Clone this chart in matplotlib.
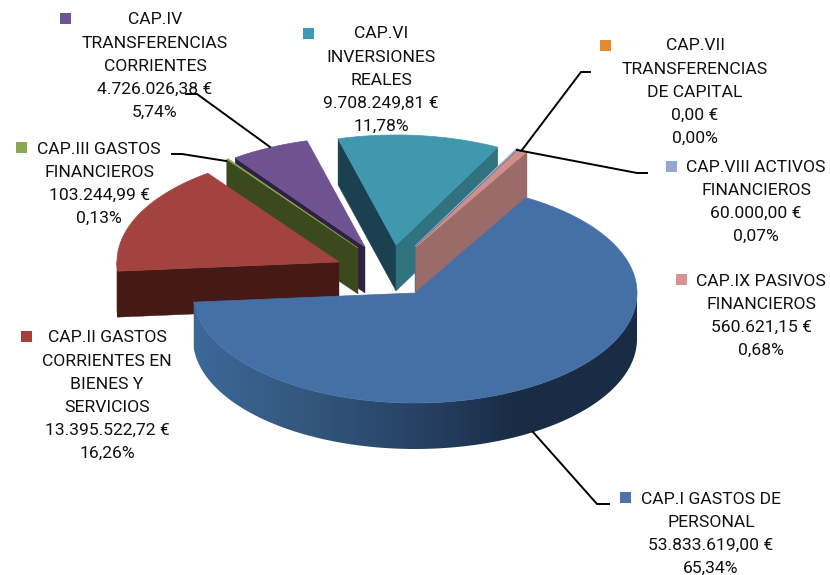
import numpy as np
import matplotlib
matplotlib.use('Agg')
import matplotlib.pyplot as plt
from matplotlib.colors import LinearSegmentedColormap
from matplotlib.patches import Polygon, Rectangle

plt.rcParams['font.family'] = ['Roboto', 'Liberation Sans', 'DejaVu Sans']

# ── Datos ─────────────────────────────────────────────────────────────────────
capitulos = ['CAP.I', 'CAP.II', 'CAP.III', 'CAP.IV', 'CAP.VI', 'CAP.VII', 'CAP.VIII', 'CAP.IX']
importes = [53833619.00, 13395522.72, 103244.99, 4726026.38, 9708249.81, 0.00, 60000.00, 560621.15]
nombres = [
    ['CAP.I GASTOS DE', 'PERSONAL'],
    ['CAP.II GASTOS', 'CORRIENTES EN', 'BIENES Y', 'SERVICIOS'],
    ['CAP.III GASTOS', 'FINANCIEROS'],
    ['CAP.IV', 'TRANSFERENCIAS', 'CORRIENTES'],
    ['CAP.VI', 'INVERSIONES', 'REALES'],
    ['CAP.VII', 'TRANSFERENCIAS', 'DE CAPITAL'],
    ['CAP.VIII ACTIVOS', 'FINANCIEROS'],
    ['CAP.IX PASIVOS', 'FINANCIEROS'],
]

# ── Estilo de cada sector (todo en píxeles de la imagen) ──────────────────────
col_sup = ['#4570a6', '#a24340', '#8aa84f', '#6f5390', '#3f98ae', '#e8873a', '#9eb0d4', '#cf908c']
col_mur = ['#2a4a70', '#451a16', '#3a4a1c', '#2e2145', '#1b4050', '#8a4f20', '#5a6a85', '#9a6b68']
col_mur2 = ['#2a4a70', '#451a16', '#3a4a1c', '#2e2145', '#31727f', '#8a4f20', '#5a6a85', '#9a6b68']
col_marca = ['#4a74ab', '#a5413d', '#8ca84c', '#6d5494', '#3d9ab5', '#e38a35', '#94a8cf', '#d69391']
vertices = [(415, 293), (339, 262), (358, 248), (365, 247), (396, 245), (415, 247), (415, 246), (416, 247)]
orden = [4, 5, 6, 7, 3, 2, 1, 0]   # de atrás hacia delante

RX, RY, FONDO = 222, 110, 46
INICIO = 60.0

# centro x del texto, y de la primera línea, posición de la marca
textos = [(711, 499, 620, 492), (107, 338, 21, 331), (99, 149, 16, 142), (155, 20, 60, 13),
          (381, 34, 303, 28), (695, 46, 600, 40), (756, 167, 666, 161), (761, 281, 676, 274)]

guias = [
    [(533, 432), (597, 504), (609, 504)],
    [(172, 154), (182, 154), (226, 161)],
    [(186, 94), (197, 94), (270, 147)],
    [(522, 150), (581, 72), (590, 72)],
    [(517, 150), (637, 173), (647, 173)],
]

# degradado de la pared frontal del sector azul
degradado = LinearSegmentedColormap.from_list(
    'pared', [(0.0, '#3d6898'), (0.24, '#34587f'), (0.5, '#284266'), (0.72, '#1a2c45'), (1.0, '#1a2c45')])


def punto(v, t):
    return v[0] + RX * np.cos(np.radians(t)), v[1] - RY * np.sin(np.radians(t))


def euros(x):
    s = f'{x:,.2f}'.replace(',', 'X').replace('.', ',').replace('X', '.')
    return s + ' €'


fig = plt.figure(figsize=(8.3, 5.75), dpi=100)
ax = fig.add_axes([0, 0, 1, 1])
ax.set_xlim(0, 830)
ax.set_ylim(575, 0)
ax.axis('off')

total = sum(importes)
ang = INICIO
limites = []
for imp in importes:
    fin = ang - imp / total * 360
    limites.append((ang, fin))
    ang = fin


def muro_radial(v, t, color):
    p = punto(v, t)
    ax.add_patch(Polygon([v, p, (p[0], p[1] + FONDO), (v[0], v[1] + FONDO)],
                         closed=True, fc=color, ec=color, lw=0.3))


for i in orden:
    t1, t2 = limites[i]
    if t1 - t2 < 1e-6:
        continue
    v = vertices[i]

    if np.cos(np.radians(t1)) < 0:
        muro_radial(v, t1, col_mur[i])
    if np.cos(np.radians(t2)) > 0:
        muro_radial(v, t2, col_mur2[i])

    # pared curva: solo la parte de delante (sin t < 0)
    a = min(t1, 0)
    b = max(t2, -180)
    if a > b:
        ts = np.linspace(a, b, 160)
        arriba = [punto(v, t) for t in ts]
        abajo = [(x, y + FONDO) for x, y in arriba[::-1]]
        pared = Polygon(arriba + abajo, closed=True, fc=col_mur[i], ec=col_mur[i], lw=0.4)
        ax.add_patch(pared)
        if i == 0:
            pared.set_facecolor('none')
            pared.set_edgecolor('none')
            im = ax.imshow(np.linspace(0, 1, 256).reshape(1, -1), cmap=degradado, aspect='auto',
                           extent=(193, 640, 460, 290), zorder=pared.get_zorder())
            im.set_clip_path(pared)
            ax.set_xlim(0, 830)
            ax.set_ylim(575, 0)

    ts = np.linspace(t1, t2, max(int((t1 - t2) * 2), 2))
    borde = [v] + [punto(v, t) for t in ts]
    ax.add_patch(Polygon(borde, closed=True, fc=col_sup[i], ec=col_sup[i], lw=0.5, zorder=1.5 if i == 0 else 1))

for g in guias:
    xs, ys = zip(*g)
    ax.plot(xs, ys, color='black', lw=1.4, solid_joinstyle='miter', zorder=6)

for i, (cx, y0, mx, my) in enumerate(textos):
    pct = f'{importes[i] / total * 100:.2f}'.replace('.', ',') + '%'
    lineas = nombres[i] + [euros(importes[i]), pct]
    for j, linea in enumerate(lineas):
        ax.text(cx, y0 + j * 23.1, linea, ha='center', va='center', fontsize=12.6,
                color='#111111', zorder=5)
    ax.add_patch(Rectangle((mx, my), 11, 11, fc=col_marca[i], ec='none', zorder=5))

fig.savefig('out.png', dpi=100)
